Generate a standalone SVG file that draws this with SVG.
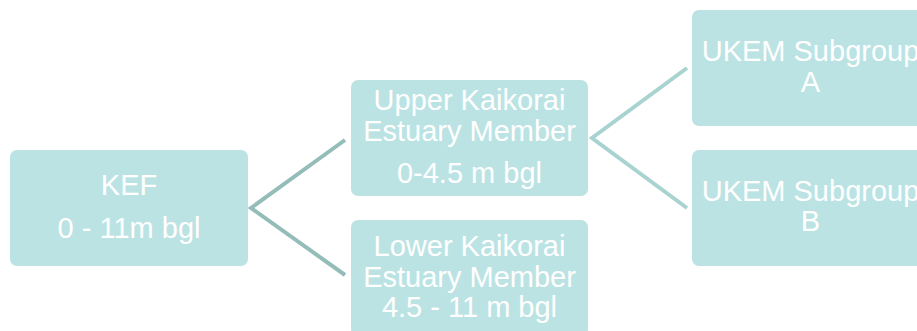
<svg xmlns="http://www.w3.org/2000/svg" width="917" height="331" viewBox="0 0 917 331">
<style>
.box{fill:#bce3e3;}
.t{font-family:"Liberation Sans",Arial,sans-serif;font-size:29px;fill:#ffffff;text-anchor:middle;}
.c1{stroke:#94bdba;stroke-width:4;fill:none;}
.c2{stroke:#a8d3d1;stroke-width:4;fill:none;}
</style>
<rect width="917" height="331" fill="#ffffff"/>
<g id="connectors">
<polyline class="c1" points="345,140 251,208 345,275"/>
<polyline class="c2" points="687,68 592,138 687,208"/>
</g>
<g id="kef">
<rect class="box" x="10" y="150" width="238" height="116" rx="7"/>
<text class="t" x="129" y="195">KEF</text>
<text class="t" x="129" y="238">0 - 11m bgl</text>
</g>
<g id="upper">
<rect class="box" x="351" y="80" width="237" height="116" rx="7"/>
<text class="t" x="469.5" y="109.5">Upper Kaikorai</text>
<text class="t" x="469.5" y="140.5">Estuary Member</text>
<text class="t" x="469.5" y="182.5">0-4.5 m bgl</text>
</g>
<g id="lower">
<rect class="box" x="351" y="220" width="237" height="116" rx="7"/>
<text class="t" x="469.5" y="255.5">Lower Kaikorai</text>
<text class="t" x="469.5" y="286.5">Estuary Member</text>
<text class="t" x="469.5" y="316.5">4.5 - 11 m bgl</text>
</g>
<g id="subA">
<rect class="box" x="692" y="10" width="237" height="116" rx="7"/>
<text class="t" x="810.5" y="61">UKEM Subgroup</text>
<text class="t" x="810.5" y="91.5">A</text>
</g>
<g id="subB">
<rect class="box" x="692" y="150" width="237" height="116" rx="7"/>
<text class="t" x="810.5" y="201">UKEM Subgroup</text>
<text class="t" x="810.5" y="231">B</text>
</g>
</svg>
